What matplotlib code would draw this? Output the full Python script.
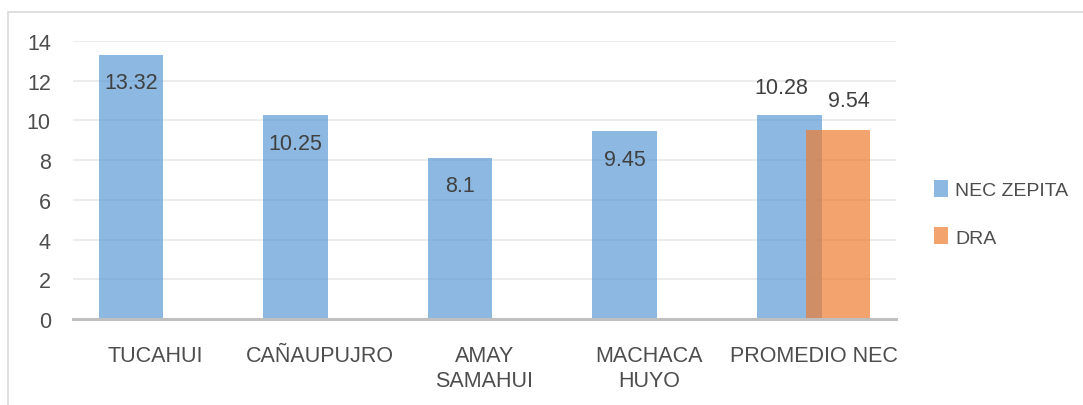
import numpy as np
import matplotlib.pyplot as plt
from matplotlib.patches import Rectangle

# Datos del grafico
categorias = ["TUCAHUI", "CAÑAUPUJRO", "AMAY\nSAMAHUI", "MACHACA\nHUYO", "PROMEDIO NEC"]
nec_zepita = [13.32, 10.25, 8.1, 9.45, 10.28]
dra = [np.nan, np.nan, np.nan, np.nan, 9.54]

plt.rcParams['font.family'] = ['Liberation Sans', 'DejaVu Sans']

fig = plt.figure(figsize=(10.83, 4.06), dpi=100)
ax = fig.add_axes([73 / 1083, 1 - 320 / 406, 823 / 1083, 278 / 406])

# marco exterior del grafico
fig.patches.append(Rectangle((8 / 1083, -0.1), 1.2, 1 - 13 / 406 + 0.1, transform=fig.transFigure,
                             fill=False, edgecolor="#d9d9d9", linewidth=1.2))

x = np.arange(len(categorias))
ancho = 0.393
desp = 0.148

b1 = ax.bar(x - desp, nec_zepita, ancho, color="#5B9BD5", alpha=0.7, label="NEC ZEPITA", zorder=3)
b2 = ax.bar(x + desp, dra, ancho, color="#ED7D31", alpha=0.7, label="DRA", zorder=3)

# etiquetas de datos
for i, v in enumerate(nec_zepita):
    if i < 4:
        ax.annotate(f"{v:g}", (x[i] - desp, v), xytext=(0, -20), textcoords="offset points",
                    ha="center", va="center", fontsize=15.5, color="#404040", zorder=5)
    else:
        ax.annotate(f"{v:g}", (x[i] - desp, v), xytext=(-6, 20), textcoords="offset points",
                    ha="center", va="center", fontsize=15.5, color="#404040", zorder=5)
ax.annotate(f"{dra[4]:g}", (x[4] + desp, dra[4]), xytext=(8, 21), textcoords="offset points",
            ha="center", va="center", fontsize=15.5, color="#404040", zorder=5)

ax.set_xlim(-0.5, len(categorias) - 0.5)
ax.set_ylim(0, 14)
ax.set_yticks(np.arange(0, 15, 2))
ax.set_xticks(x)
ax.set_xticklabels(categorias, linespacing=1.2)

ax.grid(axis="y", color="#ebebeb", linewidth=1.3, zorder=0)
for s in ["top", "right", "left"]:
    ax.spines[s].set_visible(False)
ax.spines["bottom"].set_color("#bfbfbf")
ax.spines["bottom"].set_linewidth(2.2)
ax.spines["bottom"].set_zorder(4)

ax.tick_params(axis="both", length=0, labelsize=15.5, colors="#4d4d4d")
ax.tick_params(axis="y", pad=16)
ax.tick_params(axis="x", pad=19)

ax.legend(loc="center left", bbox_to_anchor=(1.025, 0.38), frameon=False, fontsize=14,
          labelcolor="#4d4d4d", handlelength=0.7, handleheight=0.95, handletextpad=0.4,
          labelspacing=1.45)

fig.savefig("out.png", dpi=100)
